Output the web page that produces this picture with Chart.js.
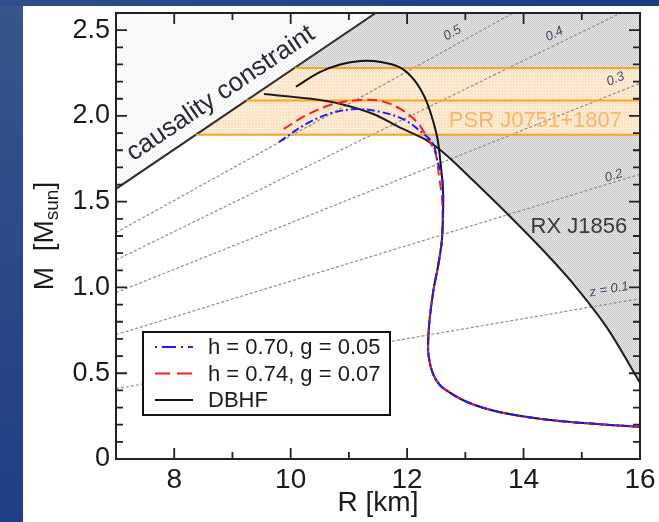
<!DOCTYPE html>
<html>
<head>
<meta charset="utf-8">
<script src="https://cdn.jsdelivr.net/npm/chart.js@4.4.1/dist/chart.umd.min.js"></script>
<style>
html,body{margin:0;padding:0}
body{width:659px;height:522px;overflow:hidden;position:relative;
	background:linear-gradient(180deg,#37578b 0%,#2b4a88 50%,#1f3f87 100%)}
#top{position:absolute;left:0;top:0;width:659px;height:6px;background:linear-gradient(90deg,#2f4e8a,#1a3a82)}
#panel{position:absolute;left:23px;top:6px;width:636px;height:516px;background:#fff}
#c{position:absolute;left:0;top:0}
</style>
</head>
<body>
<div id="top"></div>
<div id="panel"></div>
<canvas id="c" width="659" height="522"></canvas>
<script>
"use strict"

// axes
var xTickLabels = [8, 10, 12, 14, 16]
var yTickLabels = [0, 0.5, 1.0, 1.5, 2.0, 2.5]

// DBHF mass-radius curve (R km, M Msun)
var dbhfR = [10.09, 10.5, 10.85, 11.2, 11.55, 11.89, 12.12, 12.3, 12.42, 12.52, 12.57, 12.61, 12.62, 12.6, 12.54, 12.45, 12.38, 12.36, 12.37, 12.42, 12.5, 12.62, 13.04, 13.6, 14.46, 15.3, 16.0]
var dbhfM = [2.17, 2.255, 2.30, 2.32, 2.314, 2.28, 2.21, 2.11, 2.0, 1.87, 1.74, 1.6, 1.5, 1.29, 1.14, 0.98, 0.79, 0.66, 0.6, 0.52, 0.46, 0.413, 0.331, 0.273, 0.227, 0.203, 0.188]

// h = 0.74, g = 0.07
var redR = [9.88, 10.3, 10.74, 11.2, 11.55, 11.89, 12.18, 12.35, 12.49, 12.55, 12.6, 12.6, 12.54, 12.45, 12.38, 12.36, 12.37, 12.42, 12.5, 12.62, 13.04, 13.6, 14.46, 15.3, 16.0]
var redM = [1.924, 2.01, 2.07, 2.093, 2.087, 2.04, 1.96, 1.87, 1.78, 1.64, 1.52, 1.29, 1.14, 0.98, 0.79, 0.66, 0.6, 0.52, 0.46, 0.413, 0.331, 0.273, 0.227, 0.203, 0.188]

// h = 0.70, g = 0.05
var blueR = [9.8, 10.3, 10.74, 11.15, 11.55, 11.94, 12.23, 12.44, 12.52, 12.6, 12.62, 12.6, 12.54, 12.45, 12.38, 12.36, 12.37, 12.42, 12.5, 12.62, 13.04, 13.6, 14.46, 15.3, 16.0]
var blueM = [1.848, 1.96, 2.02, 2.04, 2.023, 1.98, 1.91, 1.84, 1.74, 1.64, 1.52, 1.29, 1.14, 0.98, 0.79, 0.66, 0.6, 0.52, 0.46, 0.413, 0.331, 0.273, 0.227, 0.203, 0.188]

// RX J1856 constraint
var rxR = [9.54, 10.35, 10.86, 11.43, 11.89, 12.35, 12.69, 13.14, 13.72, 14.29, 14.85, 15.43, 16.0]
var rxM = [2.128, 2.10, 2.07, 2.01, 1.93, 1.855, 1.767, 1.622, 1.43, 1.233, 1.023, 0.767, 0.445]

// causality constraint
var causR = [7, 11.46]
var causM = [1.575, 2.6]

// PSR J0751+1807 band: lower, central, upper mass and where each meets causality
var bandM = [1.89, 2.09, 2.28]
var bandStartR = [8.37, 9.24, 10.07]

// lines of constant surface redshift
var zLabels = ['z = 0.1', '0.2', '0.3', '0.4', '0.5']
var zStartM = [0.41, 0.725, 0.97, 1.16, 1.32]
var zEndR = [16, 16, 16, 15.67, 13.82]
var zEndM = [0.935, 1.66, 2.19, 2.6, 2.6]

function pts(r, m){
	return r.map(function(v, i){ return {x: v, y: m[i]} })
}

function dotPattern(base, dot, size){
	var c = document.createElement('canvas')
	c.width = c.height = size
	var g = c.getContext('2d')
	g.fillStyle = base
	g.fillRect(0, 0, size, size)
	g.fillStyle = dot
	g.fillRect(0, 0, 1, 1)
	g.fillRect(Math.floor(size/2), Math.floor(size/2), 1, 1)
	return g.createPattern(c, 'repeat')
}
var greyFill = dotPattern('#ebebeb', '#c4c4c4', 2)
var lightFill = dotPattern('#fcfcfc', '#e4e4e4', 4)
var orangeFill = dotPattern('#feecd4', '#f6d8b4', 3)

var base = {showLine: true, pointRadius: 0, fill: false, borderWidth: 0, tension: 0}
function ds(extra){ return Object.assign({}, base, extra) }

var datasets = [
	ds({data: pts(rxR, rxM), fill: 'end', backgroundColor: greyFill, order: 10}),
	ds({data: [{x: 7, y: bandM[0]}, {x: 16, y: bandM[0]}], order: 9}),
	ds({data: [{x: 7, y: bandM[2]}, {x: 16, y: bandM[2]}], fill: '-1', backgroundColor: orangeFill, order: 9}),
	ds({data: pts(causR, causM), fill: 'end', backgroundColor: lightFill, borderColor: '#2e2e2e', borderWidth: 2, order: 8})
]
zLabels.forEach(function(z, i){
	datasets.push(ds({data: [{x: 7, y: zStartM[i]}, {x: zEndR[i], y: zEndM[i]}],
		borderColor: '#8e8e8e', borderWidth: 1.2, borderDash: [3, 2], order: 7}))
})
bandM.forEach(function(m, i){
	datasets.push(ds({data: [{x: bandStartR[i], y: m}, {x: 16, y: m}], borderColor: '#f7a523', borderWidth: 2, order: 6}))
})
datasets.push(ds({data: pts(rxR, rxM), borderColor: '#1e1e1e', borderWidth: 2, tension: 0.3, order: 5}))
datasets.push(ds({label: 'h = 0.70, g = 0.05', inLegend: true, data: pts(blueR, blueM), borderColor: '#1c1cff',
	borderWidth: 2, borderDash: [8, 3, 2, 3], tension: 0.35, order: 1}))
datasets.push(ds({label: 'h = 0.74, g = 0.07', inLegend: true, data: pts(redR, redM), borderColor: '#ff1c1c',
	borderWidth: 2, borderDash: [10, 5], tension: 0.35, order: 2}))
datasets.push(ds({label: 'DBHF', inLegend: true, data: pts(dbhfR, dbhfM), borderColor: '#141414',
	borderWidth: 2, tension: 0.35, order: 3}))

var FONT = '"Liberation Sans", Arial, sans-serif'

function pix(chart, r, m){
	return [chart.scales.x.getPixelForValue(r), chart.scales.y.getPixelForValue(m)]
}

var frameTicks = {
	id: 'frameTicks',
	afterDatasetsDraw: function(chart){
		var ctx = chart.ctx, a = chart.chartArea, sx = chart.scales.x, sy = chart.scales.y
		ctx.save()
		ctx.strokeStyle = '#222'
		ctx.lineWidth = 1.8
		ctx.beginPath()
		for (var r = 8; r < 16; r++){
			var x = sx.getPixelForValue(r), len = r % 2 ? 7 : 11
			ctx.moveTo(x, a.bottom); ctx.lineTo(x, a.bottom - len)
			ctx.moveTo(x, a.top); ctx.lineTo(x, a.top + len)
		}
		for (var k = 1; k < 26; k++){
			var y = sy.getPixelForValue(k / 10), l = k % 5 ? 7 : 11
			ctx.moveTo(a.left, y); ctx.lineTo(a.left + l, y)
			ctx.moveTo(a.right, y); ctx.lineTo(a.right - l, y)
		}
		ctx.stroke()
		ctx.lineWidth = 2
		ctx.strokeRect(a.left, a.top, a.right - a.left, a.bottom - a.top)
		ctx.restore()
	}
}

var notes = {
	id: 'notes',
	afterDatasetsDraw: function(chart){
		var ctx = chart.ctx
		ctx.save()
		// causality constraint, along the line
		var p0 = pix(chart, causR[0], causM[0]), p1 = pix(chart, causR[1], causM[1])
		var ang = Math.atan2(p1[1] - p0[1], p1[0] - p0[0])
		var sr = 7.42, sm = causM[0] + (sr - causR[0]) * (causM[1] - causM[0]) / (causR[1] - causR[0])
		var q = pix(chart, sr, sm)
		ctx.save()
		ctx.translate(q[0] + Math.sin(ang) * 13, q[1] - Math.cos(ang) * 13)
		ctx.rotate(ang)
		ctx.font = '26px ' + FONT
		ctx.fillStyle = '#262a35'
		ctx.textAlign = 'left'
		ctx.textBaseline = 'alphabetic'
		ctx.fillText('causality constraint', 0, 0)
		ctx.restore()

		// redshift labels
		var zPos = [[15.47, 0.988], [15.55, 1.651], [15.58, 2.215], [14.53, 2.477], [12.78, 2.483]]
		ctx.font = 'italic 13px ' + FONT
		ctx.fillStyle = '#3d4a63'
		ctx.textAlign = 'center'
		ctx.textBaseline = 'middle'
		zLabels.forEach(function(z, i){
			var a0 = pix(chart, 7, zStartM[i]), a1 = pix(chart, zEndR[i], zEndM[i])
			var an = Math.atan2(a1[1] - a0[1], a1[0] - a0[0])
			var p = pix(chart, zPos[i][0], zPos[i][1])
			ctx.save()
			ctx.translate(p[0], p[1])
			ctx.rotate(an)
			ctx.fillText(z, 0, 0)
			ctx.restore()
		})

		ctx.textAlign = 'right'
		ctx.font = '22px ' + FONT
		ctx.fillStyle = '#fcb662'
		var pp = pix(chart, 15.69, 1.97)
		ctx.fillText('PSR J0751+1807', pp[0], pp[1])
		ctx.font = '22px ' + FONT
		ctx.fillStyle = '#35383f'
		var rp = pix(chart, 15.78, 1.35)
		ctx.fillText('RX J1856', rp[0], rp[1])
		ctx.restore()
	}
}

var legendBox = {
	id: 'legendBox',
	afterDatasetsDraw: function(chart){
		var ctx = chart.ctx, a = chart.chartArea
		var x = a.left + 27, y = a.bottom - 127, w = 247, h = 83
		ctx.save()
		ctx.fillStyle = '#fff'
		ctx.fillRect(x, y, w, h)
		ctx.strokeStyle = '#111'
		ctx.lineWidth = 2
		ctx.strokeRect(x, y, w, h)
		ctx.font = '22px ' + FONT
		ctx.textBaseline = 'middle'
		ctx.textAlign = 'left'
		chart.data.datasets.filter(function(d){ return d.inLegend }).forEach(function(d, i){
			var yy = y + 15 + i * 26.5
			ctx.strokeStyle = d.borderColor
			ctx.lineWidth = 2
			ctx.setLineDash(d.borderDash ? (d.borderDash.length > 2 ? [2, 5, 14, 5] : [15, 7]) : [])
			ctx.beginPath()
			ctx.moveTo(x + 12, yy); ctx.lineTo(x + 50, yy)
			ctx.stroke()
			ctx.setLineDash([])
			ctx.fillStyle = '#1a1a1a'
			ctx.fillText(d.label, x + 65, yy + 1)
		})
		ctx.restore()
	}
}

var yTitle = {
	id: 'yTitle',
	afterDraw: function(chart){
		var ctx = chart.ctx, a = chart.chartArea
		ctx.save()
		var big = '28px ' + FONT, small = '19px ' + FONT
		ctx.font = big
		var w1 = ctx.measureText('M  [M').width, w3 = ctx.measureText(']').width
		ctx.font = small
		var w2 = ctx.measureText('sun').width
		var total = w1 + w2 + w3
		ctx.translate(a.left - 63, (a.top + a.bottom) / 2 + total / 2)
		ctx.rotate(-Math.PI / 2)
		ctx.fillStyle = '#1a1a1a'
		ctx.textBaseline = 'alphabetic'
		ctx.textAlign = 'left'
		ctx.font = big
		ctx.fillText('M  [M', 0, 0)
		ctx.font = small
		ctx.fillText('sun', w1, 5)
		ctx.font = big
		ctx.fillText(']', w1 + w2, 0)
		ctx.restore()
	}
}

new Chart(document.getElementById('c'), {
	type: 'scatter',
	data: {datasets: datasets},
	options: {
		responsive: false,
		animation: false,
		devicePixelRatio: 1,
		layout: {padding: {left: 0, right: 19, top: 13, bottom: 0}},
		plugins: {legend: {display: false}, tooltip: {enabled: false}},
		scales: {
			x: {
				type: 'linear', min: 7, max: 16,
				afterBuildTicks: function(s){ s.ticks = xTickLabels.map(function(v){ return {value: v} }) },
				afterFit: function(s){ s.height = 63; s.paddingLeft = 0; s.paddingRight = 0 },
				grid: {display: false, drawTicks: false},
				border: {display: false},
				ticks: {color: '#1a1a1a', font: {size: 28, family: FONT}, padding: 4, maxRotation: 0},
				title: {display: true, text: 'R [km]', color: '#1a1a1a', font: {size: 28, family: FONT}, padding: {top: 0, bottom: 2}}
			},
			y: {
				type: 'linear', min: 0, max: 2.6,
				afterBuildTicks: function(s){ s.ticks = yTickLabels.map(function(v){ return {value: v} }) },
				afterFit: function(s){ s.width = 116; s.paddingTop = 0; s.paddingBottom = 0 },
				grid: {display: false, drawTicks: false},
				border: {display: false},
				ticks: {color: '#1a1a1a', font: {size: 27, family: FONT}, padding: 6,
					callback: function(v){ return v === 0 ? '0' : v.toFixed(1) }}
			}
		}
	},
	plugins: [notes, frameTicks, legendBox, yTitle]
})
</script>
</body>
</html>
